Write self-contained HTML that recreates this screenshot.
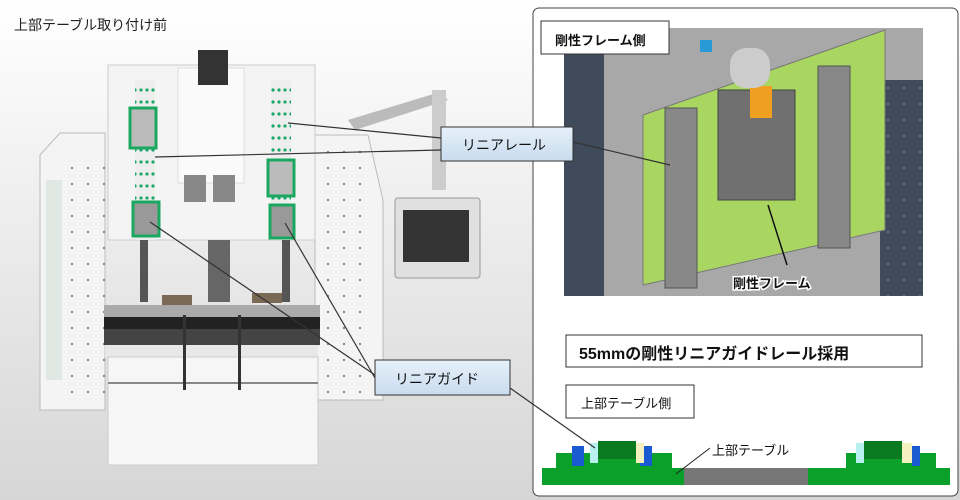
<!DOCTYPE html>
<html><head><meta charset="utf-8"><style>
html,body{margin:0;padding:0;width:960px;height:500px;overflow:hidden;background:#fff}
svg{display:block}
text{font-family:"Liberation Sans","Noto Sans CJK JP",sans-serif}
</style></head><body>
<svg width="960" height="500" viewBox="0 0 960 500" xmlns="http://www.w3.org/2000/svg">
<defs>
<linearGradient id="bg" x1="0" y1="0" x2="0" y2="1"><stop offset="0" stop-color="#ffffff"/><stop offset="1" stop-color="#d6d6d6"/></linearGradient>
<linearGradient id="lb" x1="0" y1="0" x2="0" y2="1"><stop offset="0" stop-color="#e6f0fa"/><stop offset="1" stop-color="#c9dcee"/></linearGradient>
<pattern id="holes" width="16" height="16" patternUnits="userSpaceOnUse"><circle cx="8" cy="8" r="1.2" fill="#888"/></pattern>
<pattern id="gh" width="6" height="12" patternUnits="userSpaceOnUse"><rect width="6" height="12" fill="#eee"/><circle cx="3" cy="6" r="1.6" fill="#19a86a"/></pattern>
</defs>
<rect width="960" height="500" fill="url(#bg)"/>
<text x="14" y="30" font-size="14" fill="#222">上部テーブル取り付け前</text>
<polygon points="40,155 60,133 105,133 105,410 40,410" fill="#f4f4f4" stroke="#bbb"/>
<rect x="46" y="180" width="16" height="200" fill="#e0e8e4"/>
<rect x="62" y="160" width="46" height="240" fill="url(#holes)"/>
<polygon points="315,135 368,135 383,200 383,400 315,400" fill="#f4f4f4" stroke="#bbb"/>
<rect x="318" y="150" width="48" height="245" fill="url(#holes)"/>
<rect x="108" y="65" width="207" height="175" fill="#f4f4f4" stroke="#ccc"/>
<rect x="178" y="68" width="66" height="115" fill="#fafafa" stroke="#ddd"/>
<rect x="198" y="50" width="30" height="35" fill="#333"/>
<rect x="184" y="175" width="22" height="27" fill="#888"/><rect x="213" y="175" width="22" height="27" fill="#888"/>
<rect x="135" y="80" width="20" height="160" fill="url(#gh)"/>
<rect x="130" y="108" width="26" height="40" fill="#bbb" stroke="#1aa860" stroke-width="3"/>
<rect x="133" y="202" width="26" height="34" fill="#999" stroke="#1aa860" stroke-width="3"/>
<rect x="271" y="80" width="20" height="160" fill="url(#gh)"/>
<rect x="268" y="160" width="26" height="36" fill="#bbb" stroke="#1aa860" stroke-width="3"/>
<rect x="270" y="205" width="24" height="33" fill="#999" stroke="#1aa860" stroke-width="3"/>
<rect x="140" y="240" width="8" height="62" fill="#555"/><rect x="282" y="240" width="8" height="62" fill="#555"/>
<rect x="208" y="240" width="22" height="62" fill="#666"/>
<rect x="104" y="305" width="216" height="12" fill="#aaa"/>
<rect x="104" y="317" width="216" height="12" fill="#222"/>
<rect x="104" y="329" width="216" height="16" fill="#444"/>
<rect x="105" y="345" width="213" height="12" fill="#e8e8e8"/>
<rect x="108" y="357" width="210" height="108" fill="#f6f6f6" stroke="#ccc"/>
<line x1="108" y1="383" x2="318" y2="383" stroke="#888" stroke-width="2"/>
<rect x="183" y="315" width="3" height="75" fill="#333"/><rect x="238" y="315" width="3" height="75" fill="#333"/>
<rect x="162" y="295" width="30" height="10" fill="#7a6a55"/><rect x="252" y="293" width="30" height="10" fill="#7a6a55"/>
<polygon points="348,120 440,92 448,100 355,130" fill="#bbb"/>
<rect x="432" y="90" width="14" height="100" fill="#ccc"/>
<rect x="395" y="198" width="85" height="80" rx="3" fill="#e0e0e0" stroke="#999"/>
<rect x="403" y="210" width="66" height="52" fill="#333"/>
<rect x="533" y="8" width="425" height="488" rx="6" fill="#fff" stroke="#444"/>
<rect x="564" y="28" width="359" height="268" fill="#a8a8a8"/>
<rect x="564" y="28" width="40" height="268" fill="#3f4a5a"/>
<rect x="880" y="80" width="43" height="216" fill="#3f4a5a"/>
<rect x="880" y="80" width="43" height="216" fill="url(#holes)" opacity=".6"/>
<polygon points="643,115 885,30 885,230 643,285" fill="#a8d661" stroke="#777"/>
<rect x="665" y="108" width="32" height="180" fill="#888" stroke="#555"/>
<rect x="818" y="66" width="32" height="182" fill="#888" stroke="#555"/>
<rect x="718" y="90" width="77" height="110" fill="#707070" stroke="#444"/>
<rect x="750" y="86" width="22" height="32" fill="#f0a020"/>
<rect x="730" y="48" width="40" height="40" rx="16" fill="#ccc"/>
<rect x="700" y="40" width="12" height="12" fill="#2a9ad6"/>
<line x1="768" y1="205" x2="787" y2="265" stroke="#111" stroke-width="1.5"/>
<text x="733" y="288" font-size="13" font-weight="bold" fill="#111" stroke="#fff" stroke-width="3" paint-order="stroke">剛性フレーム</text>
<rect x="541" y="21" width="128" height="33" fill="#fff" stroke="#333"/>
<text x="555" y="45" font-size="13" font-weight="bold" fill="#111">剛性フレーム側</text>
<rect x="566" y="335" width="356" height="32" fill="#fff" stroke="#333"/>
<text x="579" y="359" font-size="16" font-weight="bold" fill="#111">55mmの剛性リニアガイドレール採用</text>
<rect x="566" y="385" width="128" height="33" fill="#fff" stroke="#333"/>
<text x="581" y="408" font-size="13" fill="#111">上部テーブル側</text>
<rect x="682" y="468" width="128" height="17" fill="#777"/>
<rect x="542" y="468" width="142" height="17" fill="#0aa02a"/>
<rect x="808" y="468" width="142" height="17" fill="#0aa02a"/>
<rect x="556" y="453" width="116" height="15" fill="#0aa02a"/>
<rect x="846" y="453" width="90" height="15" fill="#0aa02a"/>
<rect x="572" y="446" width="12" height="20" fill="#1a5ad0"/><rect x="640" y="446" width="12" height="20" fill="#1a5ad0"/>
<rect x="598" y="441" width="38" height="18" fill="#0a7a20"/>
<rect x="590" y="443" width="8" height="20" fill="#b8f0f0"/><rect x="636" y="443" width="8" height="20" fill="#f4f0c0"/>
<rect x="864" y="441" width="38" height="18" fill="#0a7a20"/>
<rect x="856" y="443" width="8" height="20" fill="#b8f0f0"/><rect x="902" y="443" width="10" height="20" fill="#f4f0c0"/><rect x="912" y="446" width="8" height="20" fill="#1a5ad0"/>
<line x1="676" y1="474" x2="710" y2="448" stroke="#222"/>
<text x="712" y="455" font-size="13" fill="#111" stroke="#fff" stroke-width="3" paint-order="stroke">上部テーブル</text>
<g stroke="#333" stroke-width="1.2" fill="none">
<line x1="288" y1="123" x2="441" y2="138"/><line x1="155" y1="157" x2="441" y2="150"/>
<line x1="573" y1="142" x2="670" y2="165"/>
<line x1="150" y1="222" x2="375" y2="375"/><line x1="285" y1="223" x2="375" y2="378"/>
<line x1="510" y1="388" x2="595" y2="448"/>
</g>
<rect x="441" y="127" width="132" height="34" fill="url(#lb)" stroke="#333"/>
<text x="462" y="150" font-size="14" fill="#111">リニアレール</text>
<rect x="375" y="360" width="135" height="35" fill="url(#lb)" stroke="#333"/>
<text x="395" y="384" font-size="14" fill="#111">リニアガイド</text>
</svg>
</body></html>
